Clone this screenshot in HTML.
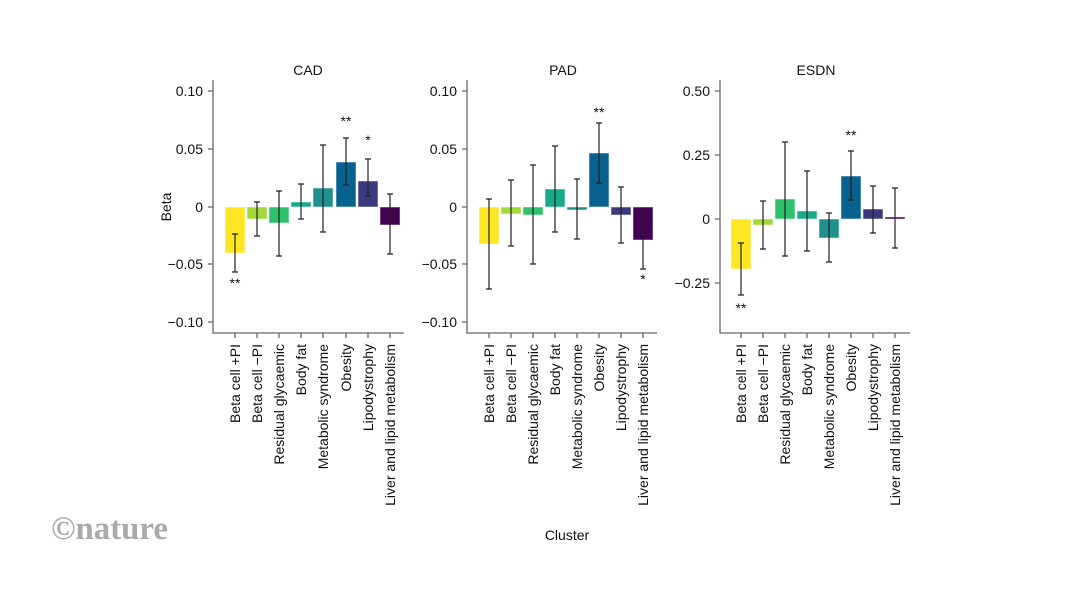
<!DOCTYPE html>
<html><head><meta charset="utf-8"><style>
html,body{margin:0;padding:0;background:#fff}
svg{display:block}
text{font-family:"Liberation Sans",sans-serif;fill:#111}
</style></head><body>
<svg width="1066" height="600" viewBox="0 0 1066 600">
<g font-size="14">
<!-- CAD -->
<text x="308" y="75" text-anchor="middle">CAD</text>
<g stroke="#666" stroke-width="1.3" fill="none">
<path d="M213 80V333H404"/>
<path d="M208 91H213M208 149H213M208 207H213M208 264H213M208 322H213"/>
<path d="M235 333v5M257 333v5M279 333v5M301 333v5M323 333v5M346 333v5M368 333v5M390 333v5"/>
</g>
<g text-anchor="end"><text x="203" y="96">0.10</text><text x="203" y="154">0.05</text><text x="203" y="212">0</text><text x="203" y="269">−0.05</text><text x="203" y="327">−0.10</text></g>
<text transform="translate(171,207) rotate(-90)" text-anchor="middle">Beta</text>
<g stroke="#fff" stroke-opacity=".5" stroke-width="1">
<rect x="225" y="207" width="20" height="46" fill="#fde725"/>
<rect x="247" y="207" width="20" height="12" fill="#a0da39"/>
<rect x="269" y="207" width="20" height="16" fill="#2ec26d"/>
<rect x="291" y="202" width="20" height="5" fill="#17ab8a"/>
<rect x="313" y="188" width="20" height="19" fill="#1f918c"/>
<rect x="336" y="162" width="20" height="45" fill="#08628f"/>
<rect x="358" y="181" width="20" height="26" fill="#3b3a7e"/>
<rect x="380" y="207" width="20" height="18" fill="#440154"/>
</g>
<g stroke="#222" stroke-width="1.2" fill="none">
<path d="M235 234V272M232 234h6M232 272h6"/>
<path d="M257 202V236M254 202h6M254 236h6"/>
<path d="M279 191V256M276 191h6M276 256h6"/>
<path d="M301 184V219M298 184h6M298 219h6"/>
<path d="M323 145V232M320 145h6M320 232h6"/>
<path d="M346 138V185M343 138h6M343 185h6"/>
<path d="M368 159V196M365 159h6M365 196h6"/>
<path d="M390 194V254M387 194h6M387 254h6"/>
</g>
<text x="235" y="288" text-anchor="middle">**</text>
<text x="346" y="126" text-anchor="middle">**</text>
<text x="368" y="145" text-anchor="middle">*</text>
<g text-anchor="end">
<text transform="translate(240,344) rotate(-90)">Beta cell +PI</text>
<text transform="translate(262,344) rotate(-90)">Beta cell −PI</text>
<text transform="translate(284,344) rotate(-90)">Residual glycaemic</text>
<text transform="translate(306,344) rotate(-90)">Body fat</text>
<text transform="translate(328,344) rotate(-90)">Metabolic syndrome</text>
<text transform="translate(351,344) rotate(-90)">Obesity</text>
<text transform="translate(373,344) rotate(-90)">Lipodystrophy</text>
<text transform="translate(395,344) rotate(-90)">Liver and lipid metabolism</text>
</g>

<!-- PAD -->
<text x="563" y="75" text-anchor="middle">PAD</text>
<g stroke="#666" stroke-width="1.3" fill="none">
<path d="M467 80V333H657"/>
<path d="M462 91H467M462 149H467M462 207H467M462 264H467M462 322H467"/>
<path d="M489 333v5M511 333v5M533 333v5M555 333v5M577 333v5M599 333v5M621 333v5M643 333v5"/>
</g>
<g text-anchor="end"><text x="457" y="96">0.10</text><text x="457" y="154">0.05</text><text x="457" y="212">0</text><text x="457" y="269">−0.05</text><text x="457" y="327">−0.10</text></g>
<g stroke="#fff" stroke-opacity=".5" stroke-width="1">
<rect x="479" y="207" width="20" height="37" fill="#fde725"/>
<rect x="501" y="207" width="20" height="7" fill="#a0da39"/>
<rect x="523" y="207" width="20" height="8" fill="#2ec26d"/>
<rect x="545" y="189" width="20" height="18" fill="#17ab8a"/>
<rect x="567" y="207" width="20" height="3" fill="#1f918c"/>
<rect x="589" y="153" width="20" height="54" fill="#08628f"/>
<rect x="611" y="207" width="20" height="8" fill="#3b3a7e"/>
<rect x="633" y="207" width="20" height="33" fill="#440154"/>
</g>
<g stroke="#222" stroke-width="1.2" fill="none">
<path d="M489 199V289M486 199h6M486 289h6"/>
<path d="M511 180V246M508 180h6M508 246h6"/>
<path d="M533 165V264M530 165h6M530 264h6"/>
<path d="M555 146V232M552 146h6M552 232h6"/>
<path d="M577 179V239M574 179h6M574 239h6"/>
<path d="M599 123V183M596 123h6M596 183h6"/>
<path d="M621 187V243M618 187h6M618 243h6"/>
<path d="M643 211V269M640 211h6M640 269h6"/>
</g>
<text x="599" y="117" text-anchor="middle">**</text>
<text x="643" y="284" text-anchor="middle">*</text>
<g text-anchor="end">
<text transform="translate(494,344) rotate(-90)">Beta cell +PI</text>
<text transform="translate(516,344) rotate(-90)">Beta cell −PI</text>
<text transform="translate(538,344) rotate(-90)">Residual glycaemic</text>
<text transform="translate(560,344) rotate(-90)">Body fat</text>
<text transform="translate(582,344) rotate(-90)">Metabolic syndrome</text>
<text transform="translate(604,344) rotate(-90)">Obesity</text>
<text transform="translate(626,344) rotate(-90)">Lipodystrophy</text>
<text transform="translate(648,344) rotate(-90)">Liver and lipid metabolism</text>
</g>
<text x="567" y="540" text-anchor="middle">Cluster</text>

<!-- ESDN -->
<text x="816" y="75" text-anchor="middle">ESDN</text>
<g stroke="#666" stroke-width="1.3" fill="none">
<path d="M720 80V333H910"/>
<path d="M715 91H720M715 155H720M715 219H720M715 283H720"/>
<path d="M741 333v5M763 333v5M785 333v5M807 333v5M829 333v5M851 333v5M873 333v5M895 333v5"/>
</g>
<g text-anchor="end"><text x="710" y="96">0.50</text><text x="710" y="160">0.25</text><text x="710" y="224">0</text><text x="710" y="288">−0.25</text></g>
<g stroke="#fff" stroke-opacity=".5" stroke-width="1">
<rect x="731" y="219" width="20" height="50" fill="#fde725"/>
<rect x="753" y="219" width="20" height="6" fill="#a0da39"/>
<rect x="775" y="199" width="20" height="20" fill="#2ec26d"/>
<rect x="797" y="211" width="20" height="8" fill="#17ab8a"/>
<rect x="819" y="219" width="20" height="19" fill="#1f918c"/>
<rect x="841" y="176" width="20" height="43" fill="#08628f"/>
<rect x="863" y="209" width="20" height="10" fill="#3b3a7e"/>
<rect x="885" y="217" width="20" height="2" fill="#440154"/>
</g>
<g stroke="#222" stroke-width="1.2" fill="none">
<path d="M741 243V295M738 243h6M738 295h6"/>
<path d="M763 201V249M760 201h6M760 249h6"/>
<path d="M785 142V256M782 142h6M782 256h6"/>
<path d="M807 171V251M804 171h6M804 251h6"/>
<path d="M829 213V262M826 213h6M826 262h6"/>
<path d="M851 151V200M848 151h6M848 200h6"/>
<path d="M873 186V233M870 186h6M870 233h6"/>
<path d="M895 188V248M892 188h6M892 248h6"/>
</g>
<text x="741" y="313" text-anchor="middle">**</text>
<text x="851" y="140" text-anchor="middle">**</text>
<g text-anchor="end">
<text transform="translate(746,344) rotate(-90)">Beta cell +PI</text>
<text transform="translate(768,344) rotate(-90)">Beta cell −PI</text>
<text transform="translate(790,344) rotate(-90)">Residual glycaemic</text>
<text transform="translate(812,344) rotate(-90)">Body fat</text>
<text transform="translate(834,344) rotate(-90)">Metabolic syndrome</text>
<text transform="translate(856,344) rotate(-90)">Obesity</text>
<text transform="translate(878,344) rotate(-90)">Lipodystrophy</text>
<text transform="translate(900,344) rotate(-90)">Liver and lipid metabolism</text>
</g>
</g>
<text x="51" y="539" font-weight="bold" font-size="33" textLength="117" lengthAdjust="spacingAndGlyphs" style="fill:#aaa;font-family:'Liberation Serif',serif">©nature</text>
</svg>
</body></html>
